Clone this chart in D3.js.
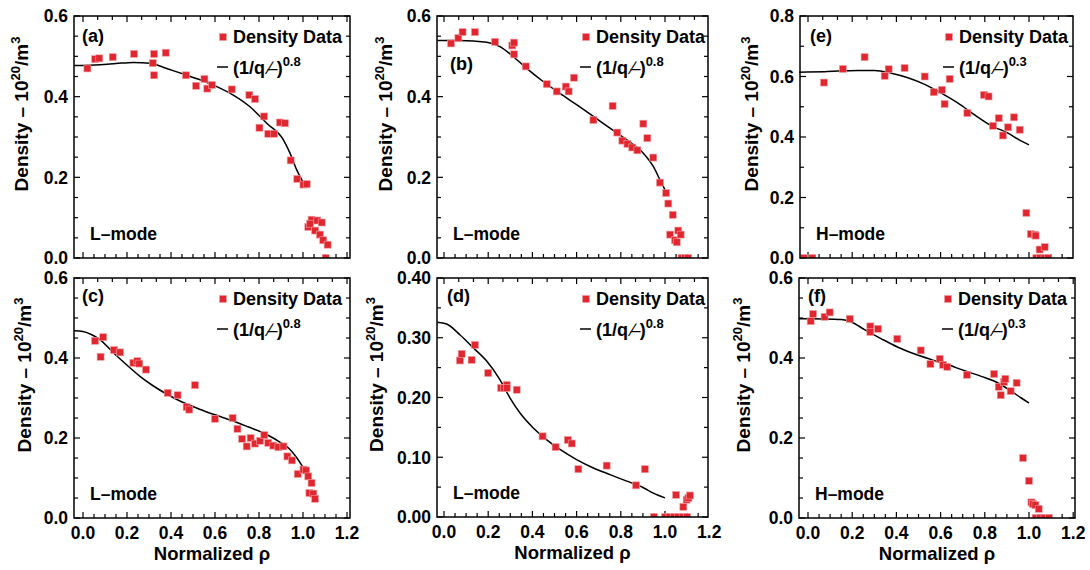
<!DOCTYPE html>
<html>
<head>
<meta charset="utf-8">
<script src="https://cdn.jsdelivr.net/npm/d3@7"></script>
<style>
  body { margin: 0; background: #fff; }
  text { font-family: "Liberation Sans", Arial, sans-serif; font-weight: bold; fill: #000; }
</style>
</head>
<body>
<svg id="chart" width="1090" height="570"></svg>
<script>
// ----- data: [normalized rho, density 1e20/m^3] -----
const ptsA = [[0.02,0.470],[0.055,0.493],[0.074,0.495],[0.135,0.498],[0.232,0.506],[0.323,0.506],[0.317,0.483],
  [0.323,0.453],[0.376,0.509],[0.468,0.453],[0.514,0.427],[0.552,0.444],[0.565,0.420],[0.586,0.429],[0.676,0.418],
  [0.756,0.404],[0.782,0.394],[0.823,0.351],[0.802,0.323],[0.842,0.308],[0.868,0.308],[0.895,0.336],[0.918,0.334],
  [0.944,0.242],[0.974,0.196],[1.002,0.182],[1.017,0.183],[1.024,0.077],[1.039,0.095],[1.032,0.085],[1.055,0.068],
  [1.065,0.093],[1.077,0.058],[1.085,0.088],[1.092,0.044],[1.112,0.033],[1.103,0.0]];
const fitA = [[-0.04,0.477],[0.077,0.479],[0.15,0.482],[0.229,0.485],[0.305,0.483],[0.38,0.470],[0.456,0.456],
  [0.532,0.442],[0.608,0.425],[0.683,0.404],[0.759,0.375],[0.835,0.334],[0.911,0.293],[0.941,0.260],[0.971,0.219],[0.998,0.190]];

const ptsB = [[0.032,0.532],[0.065,0.545],[0.084,0.560],[0.14,0.560],[0.231,0.536],[0.309,0.527],[0.317,0.534],
  [0.317,0.505],[0.370,0.475],[0.465,0.431],[0.510,0.413],[0.551,0.425],[0.564,0.413],[0.588,0.447],[0.676,0.342],
  [0.763,0.377],[0.784,0.311],[0.807,0.291],[0.830,0.283],[0.852,0.274],[0.875,0.267],[0.902,0.333],[0.920,0.297],
  [0.947,0.249],[0.977,0.187],[1.005,0.161],[1.015,0.135],[1.035,0.107],[1.023,0.058],[1.045,0.044],[1.053,0.039],
  [1.06,0.068],[1.071,0.058],[1.075,0.0],[1.09,0.0],[1.105,0.0]];
const fitB = [[-0.03,0.539],[0.072,0.539],[0.193,0.535],[0.253,0.524],[0.314,0.499],[0.374,0.470],[0.45,0.437],
  [0.525,0.408],[0.60,0.380],[0.676,0.351],[0.751,0.322],[0.827,0.293],[0.902,0.260],[0.947,0.227],[0.977,0.194],[1.0,0.169]];

const ptsE = [[-0.018,0.0],[0.02,0.0],[0.072,0.580],[0.158,0.625],[0.256,0.664],[0.347,0.602],[0.365,0.624],
  [0.437,0.628],[0.528,0.600],[0.569,0.548],[0.606,0.556],[0.618,0.509],[0.641,0.592],[0.721,0.479],[0.796,0.539],
  [0.817,0.534],[0.837,0.437],[0.863,0.462],[0.882,0.405],[0.905,0.432],[0.932,0.465],[0.958,0.424],[0.988,0.149],
  [1.008,0.079],[1.026,0.077],[1.03,0.074],[1.048,0.028],[1.071,0.036],[1.033,0.0],[1.05,0.0],[1.07,0.0],[1.086,0.0]];
const fitE = [[-0.04,0.614],[0.075,0.616],[0.226,0.620],[0.30,0.620],[0.377,0.611],[0.452,0.596],[0.528,0.574],
  [0.603,0.545],[0.679,0.512],[0.754,0.473],[0.83,0.437],[0.905,0.413],[0.95,0.393],[1.0,0.374]];

const ptsC = [[0.055,0.443],[0.080,0.403],[0.092,0.452],[0.141,0.42],[0.168,0.414],[0.229,0.388],[0.247,0.392],
  [0.256,0.386],[0.286,0.371],[0.385,0.313],[0.430,0.307],[0.471,0.277],[0.483,0.271],[0.509,0.332],[0.6,0.248],
  [0.68,0.25],[0.702,0.223],[0.723,0.198],[0.744,0.179],[0.762,0.2],[0.782,0.186],[0.805,0.193],[0.824,0.207],
  [0.842,0.188],[0.865,0.181],[0.888,0.177],[0.911,0.179],[0.929,0.154],[0.95,0.144],[0.976,0.11],[1.002,0.121],
  [1.014,0.119],[1.024,0.104],[1.039,0.0875],[1.029,0.0625],[1.047,0.061],[1.055,0.048]];
const fitC = [[-0.04,0.468],[0.0,0.466],[0.04,0.458],[0.077,0.446],[0.138,0.413],[0.198,0.383],[0.259,0.354],
  [0.32,0.330],[0.38,0.310],[0.45,0.290],[0.53,0.272],[0.6,0.258],[0.68,0.243],[0.75,0.228],[0.83,0.210],
  [0.9,0.188],[0.94,0.172],[0.97,0.152],[1.0,0.127]];

const ptsD = [[0.072,0.262],[0.080,0.273],[0.125,0.263],[0.14,0.288],[0.2,0.241],[0.258,0.216],[0.271,0.216],
  [0.284,0.221],[0.284,0.216],[0.329,0.213],[0.446,0.135],[0.505,0.117],[0.56,0.129],[0.578,0.123],[0.608,0.080],
  [0.736,0.086],[0.869,0.053],[0.909,0.080],[0.95,0.0],[1.0,0.0],[1.02,0.0],[1.04,0.0],[1.06,0.0],[1.08,0.0],
  [1.1,0.0],[1.05,0.037],[1.083,0.017],[1.098,0.029],[1.106,0.032],[1.113,0.036]];
const fitD = [[-0.03,0.326],[0.012,0.323],[0.072,0.305],[0.133,0.283],[0.193,0.261],[0.253,0.230],[0.299,0.199],
  [0.344,0.174],[0.404,0.149],[0.465,0.129],[0.525,0.113],[0.6,0.096],[0.676,0.082],[0.751,0.071],[0.827,0.060],
  [0.902,0.049],[0.947,0.040],[1.0,0.032]];

const ptsF = [[0.012,0.492],[0.023,0.51],[0.075,0.503],[0.098,0.514],[0.189,0.498],[0.282,0.479],[0.282,0.465],
  [0.317,0.473],[0.404,0.448],[0.51,0.419],[0.554,0.385],[0.596,0.398],[0.611,0.383],[0.63,0.378],[0.719,0.358],
  [0.842,0.36],[0.863,0.328],[0.887,0.34],[0.872,0.307],[0.893,0.348],[0.917,0.317],[0.944,0.338],[0.973,0.15],
  [1.0,0.093],[1.011,0.039],[1.018,0.035],[1.029,0.032],[1.044,0.023],[1.03,0.0],[1.05,0.0],[1.07,0.0],[1.09,0.0]];
const fitF = [[-0.04,0.498],[0.075,0.4975],[0.151,0.496],[0.196,0.490],[0.256,0.471],[0.332,0.448],[0.407,0.427],
  [0.483,0.410],[0.558,0.396],[0.633,0.383],[0.709,0.368],[0.784,0.354],[0.86,0.3375],[0.92,0.317],[0.965,0.300],[1.0,0.2875]];

const xTickLabels = [0, 0.2, 0.4, 0.6, 0.8, 1.0, 1.2];

// ----- panel layout -----
const panels = [
  { tag: "(a)", pts: ptsA, fit: fitA, mode: "L–mode", exp: "0.8", left: 74,  right: 350,  top: 16,  bottom: 258, x0: 9, x1: 229, yMax: 0.6, yMajor: 0.2, yMinor: 0.05, fmt: ".1f", titleOff: 46, tagX: 8,  tagY: 26, xLabels: false },
  { tag: "(b)", pts: ptsB, fit: fitB, mode: "L–mode", exp: "0.8", left: 437, right: 708,  top: 16,  bottom: 258, x0: 7, x1: 228, yMax: 0.6, yMajor: 0.2, yMinor: 0.05, fmt: ".1f", titleOff: 45, tagX: 13, tagY: 54, xLabels: false },
  { tag: "(e)", pts: ptsE, fit: fitE, mode: "H–mode", exp: "0.3", left: 800, right: 1073, top: 16,  bottom: 258, x0: 8, x1: 229, yMax: 0.8, yMajor: 0.2, yMinor: 0.1,  fmt: ".1f", titleOff: 42, tagX: 10, tagY: 26, xLabels: false },
  { tag: "(c)", pts: ptsC, fit: fitC, mode: "L–mode", exp: "0.8", left: 74,  right: 350,  top: 278, bottom: 518, x0: 9, x1: 229, yMax: 0.6, yMajor: 0.2, yMinor: 0.05, fmt: ".1f", titleOff: 43, tagX: 8,  tagY: 24, xLabels: true },
  { tag: "(d)", pts: ptsD, fit: fitD, mode: "L–mode", exp: "0.8", left: 437, right: 708,  top: 278, bottom: 517, x0: 7, x1: 228, yMax: 0.4, yMajor: 0.1, yMinor: 0.05, fmt: ".2f", titleOff: 54, tagX: 10, tagY: 24, xLabels: true },
  { tag: "(f)", pts: ptsF, fit: fitF, mode: "H–mode", exp: "0.3", left: 799, right: 1075, top: 278, bottom: 518, x0: 9, x1: 230, yMax: 0.6, yMajor: 0.2, yMinor: 0.05, fmt: ".1f", titleOff: 49, tagX: 9,  tagY: 24, xLabels: true }
];

const svg = d3.select("#chart");
const red = "#e0262f";

panels.forEach((p, i) => {
  const g = svg.append("g");
  const x = d3.scaleLinear().domain([0, 1]).range([p.left + p.x0, p.left + p.x1]);
  const y = d3.scaleLinear().domain([0, p.yMax]).range([p.bottom, p.top]);
  const xMax = x.invert(p.right);

  // clip for the data marks
  const clipId = "clip" + i;
  svg.append("clipPath").attr("id", clipId)
    .append("rect").attr("x", p.left).attr("y", p.top)
    .attr("width", p.right - p.left).attr("height", p.bottom - p.top);

  // ticks (all pointing inward)
  const yMinorTicks = d3.range(0, p.yMax + 1e-9, p.yMinor);
  const yMajorTicks = d3.range(0, p.yMax + 1e-9, p.yMajor);
  const xMinorBottom = d3.range(0, xMax, 0.05);
  const xMinorTop = d3.range(0, xMax, 0.2 / 3);
  const ticks = g.append("g").attr("stroke", "#000").attr("stroke-width", 1.2);

  yMinorTicks.forEach(v => {
    const major = yMajorTicks.some(m => Math.abs(m - v) < 1e-6);
    const len = major ? 6 : 4;
    ticks.append("line").attr("x1", p.left).attr("x2", p.left + len).attr("y1", y(v)).attr("y2", y(v));
    ticks.append("line").attr("x1", p.right).attr("x2", p.right - len).attr("y1", y(v)).attr("y2", y(v));
  });
  xMinorBottom.forEach(v => {
    const major = Math.abs(v / 0.2 - Math.round(v / 0.2)) < 1e-6;
    const len = major ? 6 : 4;
    ticks.append("line").attr("x1", x(v)).attr("x2", x(v)).attr("y1", p.bottom).attr("y2", p.bottom - len);
  });
  xMinorTop.forEach(v => {
    const major = Math.abs(v / 0.2 - Math.round(v / 0.2)) < 1e-6;
    const len = major ? 6 : 4;
    ticks.append("line").attr("x1", x(v)).attr("x2", x(v)).attr("y1", p.top).attr("y2", p.top + len);
  });

  // y tick labels
  g.append("g").selectAll("text").data(yMajorTicks).join("text")
    .attr("x", p.left - 6).attr("y", d => y(d)).attr("dy", "0.36em")
    .attr("text-anchor", "end").attr("font-size", 17.5)
    .text(d => d3.format(p.fmt)(d));

  // x tick labels + title (bottom row only)
  if (p.xLabels) {
    g.append("g").selectAll("text").data(xTickLabels).join("text")
      .attr("x", d => x(d)).attr("y", p.bottom + 21)
      .attr("text-anchor", "middle").attr("font-size", 17.5)
      .text(d => d3.format(".1f")(d));
    g.append("text").attr("x", (p.left + p.right) / 2).attr("y", p.bottom + 42)
      .attr("text-anchor", "middle").attr("font-size", 18.5)
      .text("Normalized ρ");
  }

  // y title
  const yt = g.append("text")
    .attr("transform", `translate(${p.left - p.titleOff},${(p.top + p.bottom) / 2 - 23}) rotate(-90)`)
    .attr("text-anchor", "middle").attr("font-size", 19);
  yt.append("tspan").text("Density – 10");
  yt.append("tspan").attr("font-size", 13).attr("dy", -8).text("20");
  yt.append("tspan").attr("dy", 8).text("/m");
  yt.append("tspan").attr("font-size", 13).attr("dy", -8).text("3");

  // fit curve
  const line = d3.line().x(d => x(d[0])).y(d => y(d[1])).curve(d3.curveMonotoneX);
  g.append("path").datum(p.fit)
    .attr("fill", "none").attr("stroke", "#000").attr("stroke-width", 1.5)
    .attr("d", line);

  // data markers
  g.append("g").attr("clip-path", `url(#${clipId})`)
    .selectAll("rect").data(p.pts).join("rect")
    .attr("x", d => x(d[0]) - 3.5).attr("y", d => y(d[1]) - 3.5)
    .attr("width", 7).attr("height", 7)
    .attr("fill", red).attr("stroke", "#f2a0a4").attr("stroke-width", 0.6);

  // frame
  g.append("rect").attr("x", p.left).attr("y", p.top)
    .attr("width", p.right - p.left).attr("height", p.bottom - p.top)
    .attr("fill", "none").attr("stroke", "#000").attr("stroke-width", 1.5);

  // panel tag and mode label
  g.append("text").attr("x", p.left + p.tagX).attr("y", p.top + p.tagY)
    .attr("font-size", 18).text(p.tag);
  g.append("text").attr("x", p.left + 16).attr("y", p.bottom - 18)
    .attr("font-size", 17.5).text(p.mode);

  // legend
  const lx = p.left + 159;
  const ly1 = p.top + 27, ly2 = p.top + 58;
  g.append("rect").attr("x", lx - 13.5).attr("y", ly1 - 9.5).attr("width", 7).attr("height", 7)
    .attr("fill", red).attr("stroke", "#f2a0a4").attr("stroke-width", 0.6);
  g.append("text").attr("x", lx).attr("y", ly1).attr("font-size", 18).text("Density Data");
  g.append("line").attr("x1", lx - 16).attr("x2", lx - 5).attr("y1", ly2 - 7).attr("y2", ly2 - 7)
    .attr("stroke", "#000").attr("stroke-width", 1.5);
  const lt = g.append("text").attr("x", lx).attr("y", ly2).attr("font-size", 18);
  lt.append("tspan").text("(1/q\u2009");
  lt.append("tspan").attr("font-weight", "normal").attr("letter-spacing", -4).text("\u2215\u2013");
  lt.append("tspan").attr("dx", 3).text(")");
  lt.append("tspan").attr("font-size", 13).attr("dy", -8).text(p.exp);
});
</script>
</body>
</html>
